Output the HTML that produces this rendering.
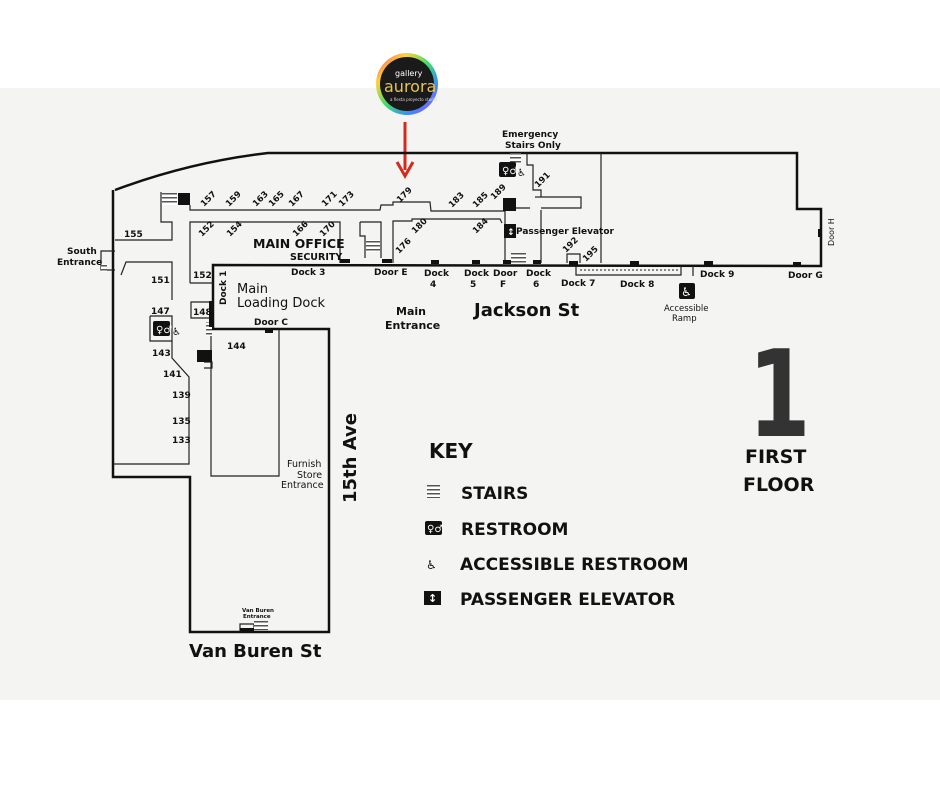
<!DOCTYPE html>
<html><head><meta charset="utf-8"><style>
html,body{margin:0;padding:0;background:#fff}
svg{display:block}
text{font-family:"DejaVu Sans","Liberation Sans",sans-serif;fill:#111}
.b{font-weight:bold}
</style></head><body>
<svg width="940" height="788" viewBox="0 0 940 788" xmlns="http://www.w3.org/2000/svg">
<defs>
<linearGradient id="rg" x1="0" y1="0" x2="1" y2="1">
<stop offset="0" stop-color="#ff3b6b"/><stop offset="0.25" stop-color="#ffd23a"/><stop offset="0.5" stop-color="#3ddc6a"/><stop offset="0.75" stop-color="#3a8cff"/><stop offset="1" stop-color="#c13cff"/>
</linearGradient>
<pattern id="st" width="3" height="4" patternUnits="userSpaceOnUse"><rect width="3" height="4" fill="#fff"/><rect y="1" width="3" height="1.5" fill="#555"/></pattern>
</defs>
<rect x="0" y="88" width="940" height="612" fill="#f4f4f2"/>
<!-- logo -->
<circle cx="407" cy="84" r="31" fill="url(#rg)"/>
<circle cx="407" cy="84" r="27" fill="#1a1a1a"/>
<text x="395" y="76" font-size="8" style="fill:#fff">gallery</text>
<text x="384" y="92" font-size="16" style="fill:#e8c44a">aurora</text>
<text x="390" y="101" font-size="4" style="fill:#ddd">a fiesta proyecto studio</text>
<!-- red arrow -->
<line x1="405" y1="122" x2="405" y2="170" stroke="#d42a1e" stroke-width="3"/>
<path d="M397 162 L405 176 L413 162" fill="none" stroke="#d42a1e" stroke-width="3"/>
<!-- outer walls -->
<g fill="none" stroke="#111" stroke-width="2.5" stroke-linejoin="miter">
<path d="M115 190 Q190 162 268 153 L797 153 L797 209 L821 209 L821 266 L213 265 L213 329 L329 329 L329 632 L190 632 L190 477 L113 477 L113 190"/>
</g>
<!-- inner walls -->
<g fill="none" stroke="#222" stroke-width="1.2">
<path d="M190 205 L190 210 L380 210 L381 205 L393 205 L393 202 L430 202 L431 211 L505 211"/>
<path d="M161 192 L161 222 L172 222 L172 240 L115 240"/>
<path d="M190 283 L190 222 L340 222 L340 263"/>
<path d="M190 283 L213 283"/>
<path d="M360 222 L381 222 L381 258 M360 222 L360 236 L365 236 L365 258"/>
<path d="M393 263 L393 221 L412 221 L412 219 L500 219 L502 223"/>
<path d="M505 200 L505 263 M541 210 L541 263 M601 153 L601 263"/>
<path d="M505 208 L530 208 M541 208 L581 208 L581 197 L541 197 L541 190 L533 190 L533 165 L527 165 L527 153"/>
<path d="M541 197 L535 197"/>
<path d="M121 275 L126 262 L172 262 L172 300 M150 316 L172 316 L172 341 L150 341 L150 316"/>
<path d="M172 341 L172 358 L189 377 L189 464 L113 464"/>
<path d="M191 302 L210 302 L210 318 L191 318 Z"/>
<path d="M211 329 L211 476 L279 476 L279 329"/>
<path d="M204 362 L212 362 L212 368 L204 368"/>
<path d="M567 263 L567 254 L580 254 L580 263"/>
<path d="M576 266 L576 275 L681 275 L681 266 M693 266 L693 276"/>
<path d="M115 251 L101 251 L101 270 L115 270"/>
<path d="M240 632 L240 624 L254 624 L254 632"/>
</g>
<!-- ramp dashes -->
<line x1="580" y1="270" x2="680" y2="270" stroke="#888" stroke-width="2" stroke-dasharray="2 2"/>
<!-- stairs & black blocks -->
<rect x="161" y="192" width="17" height="13" fill="url(#stP)"/>
<rect x="162" y="193" width="15" height="12" fill="url(#st)"/>
<rect x="178" y="193" width="12" height="12" fill="#111"/>
<rect x="503" y="198" width="13" height="13" fill="#111"/>
<rect x="510" y="153" width="11" height="10" fill="url(#st)"/>
<rect x="366" y="240" width="14" height="12" fill="url(#st)"/>
<rect x="511" y="253" width="15" height="10" fill="url(#st)"/>
<rect x="206" y="322" width="6" height="14" fill="url(#st)"/>
<rect x="197" y="350" width="15" height="12" fill="#111"/>
<rect x="209" y="301" width="4" height="26" fill="#111"/>
<rect x="101" y="264" width="6" height="8" fill="url(#st)"/>
<rect x="254" y="621" width="14" height="10" fill="url(#st)"/>
<rect x="240" y="628" width="14" height="4" fill="#111"/>
<!-- door marks -->
<g fill="#111">
<rect x="340" y="259" width="10" height="4"/><rect x="382" y="259" width="10" height="4"/>
<rect x="431" y="260" width="8" height="4"/><rect x="472" y="260" width="8" height="4"/>
<rect x="503" y="260" width="8" height="4"/><rect x="533" y="260" width="8" height="4"/>
<rect x="569" y="261" width="9" height="4"/><rect x="630" y="261" width="9" height="4"/>
<rect x="704" y="261" width="9" height="4"/><rect x="793" y="262" width="8" height="4"/>
<rect x="818" y="229" width="4" height="8"/><rect x="265" y="329" width="8" height="4"/>
</g>
<!-- restroom icons -->
<rect x="499" y="162" width="17" height="15" rx="2" fill="#111"/>
<text x="502" y="174" font-size="10" style="fill:#fff" class="b">♀♂</text>
<text x="517" y="176" font-size="10">♿</text>
<rect x="153" y="321" width="17" height="15" rx="2" fill="#111"/>
<text x="156" y="333" font-size="10" style="fill:#fff" class="b">♀♂</text>
<text x="172" y="335" font-size="10">♿</text>
<!-- elevator -->
<rect x="504" y="224" width="12" height="14" fill="#111"/>
<text x="507" y="235" font-size="9" style="fill:#fff" class="b">↕</text>
<!-- accessible ramp icon -->
<rect x="679" y="283" width="16" height="16" rx="2" fill="#111"/>
<text x="681" y="296" font-size="12" style="fill:#fff">♿</text>
<!-- labels -->
<g font-size="9" class="b">
<text x="502" y="137">Emergency</text><text x="505" y="148">Stairs Only</text>
<text x="67" y="254">South</text><text x="57" y="265">Entrance</text>
<text x="124" y="237">155</text><text x="151" y="283">151</text><text x="151" y="314">147</text>
<text x="152" y="356">143</text><text x="163" y="377">141</text><text x="172" y="398">139</text>
<text x="172" y="424">135</text><text x="172" y="443">133</text>
<text x="193" y="278">152</text><text x="193" y="315">148</text><text x="227" y="349">144</text>
<text x="291" y="275">Dock 3</text><text x="374" y="275">Door E</text>
<text x="424" y="276">Dock</text><text x="430" y="287">4</text>
<text x="464" y="276">Dock</text><text x="470" y="287">5</text>
<text x="493" y="276">Door</text><text x="500" y="287">F</text>
<text x="526" y="276">Dock</text><text x="533" y="287">6</text>
<text x="561" y="286">Dock 7</text><text x="620" y="287">Dock 8</text>
<text x="700" y="277">Dock 9</text><text x="788" y="278">Door G</text>
<text x="254" y="325">Door C</text>
<text x="516" y="234">Passenger Elevator</text>
</g>
<text x="664" y="311" font-size="8.5">Accessible</text><text x="672" y="321" font-size="8.5">Ramp</text>
<text font-size="8" transform="translate(834,246) rotate(-90)">Door H</text>
<text class="b" font-size="9" transform="translate(226,305) rotate(-90)">Dock 1</text>
<g font-size="8.5" class="b">
<text transform="translate(204,207) rotate(-45)">157</text><text transform="translate(229,207) rotate(-45)">159</text>
<text transform="translate(256,207) rotate(-45)">163</text><text transform="translate(272,207) rotate(-45)">165</text>
<text transform="translate(292,207) rotate(-45)">167</text><text transform="translate(325,207) rotate(-45)">171</text>
<text transform="translate(342,207) rotate(-45)">173</text><text transform="translate(400,203) rotate(-45)">179</text>
<text transform="translate(452,208) rotate(-45)">183</text><text transform="translate(476,208) rotate(-45)">185</text>
<text transform="translate(494,200) rotate(-45)">189</text><text transform="translate(538,188) rotate(-45)">191</text>
<text transform="translate(202,237) rotate(-45)">152</text><text transform="translate(230,237) rotate(-45)">154</text>
<text transform="translate(296,237) rotate(-45)">166</text><text transform="translate(323,237) rotate(-45)">170</text>
<text transform="translate(399,254) rotate(-45)">176</text><text transform="translate(415,234) rotate(-45)">180</text>
<text transform="translate(476,234) rotate(-45)">184</text><text transform="translate(566,253) rotate(-45)">192</text>
<text transform="translate(586,262) rotate(-45)">195</text>
</g>
<text x="253" y="248" font-size="12.5" class="b">MAIN OFFICE</text>
<text x="290" y="260" font-size="9.5" class="b">SECURITY</text>
<text x="237" y="293" font-size="13">Main</text><text x="237" y="307" font-size="13">Loading Dock</text>
<text x="396" y="315" font-size="11" class="b">Main</text><text x="385" y="329" font-size="11" class="b">Entrance</text>
<text x="474" y="316" font-size="18" class="b">Jackson St</text>
<text x="287" y="467" font-size="9.5">Furnish</text><text x="297" y="478" font-size="9.5">Store</text><text x="281" y="488" font-size="9.5">Entrance</text>
<text class="b" font-size="18" transform="translate(356,503) rotate(-90)">15th Ave</text>
<text x="242" y="612" font-size="5.5" class="b">Van Buren</text><text x="243" y="618" font-size="5.5" class="b">Entrance</text>
<text x="189" y="657" font-size="18" class="b">Van Buren St</text>
<!-- key -->
<text x="429" y="458" font-size="20" class="b">KEY</text>
<rect x="427" y="485" width="13" height="13" fill="url(#st)"/>
<text x="461" y="499" font-size="17" class="b">STAIRS</text>
<rect x="425" y="521" width="17" height="14" rx="2" fill="#111"/>
<text x="427" y="532" font-size="10" style="fill:#fff" class="b">♀♂</text>
<text x="461" y="535" font-size="17" class="b">RESTROOM</text>
<text x="426" y="569" font-size="12">♿</text>
<text x="460" y="570" font-size="17" class="b">ACCESSIBLE RESTROOM</text>
<rect x="424" y="591" width="17" height="14" fill="#111"/>
<text x="428" y="602" font-size="11" style="fill:#fff" class="b">↕</text>
<text x="460" y="605" font-size="17" class="b">PASSENGER ELEVATOR</text>
<!-- floor -->
<text class="b" font-size="120" style="fill:#333" transform="translate(748,436) scale(0.75,1)">1</text>
<text x="745" y="463" font-size="19" class="b">FIRST</text>
<text x="743" y="491" font-size="19" class="b">FLOOR</text>
</svg>
</body></html>
